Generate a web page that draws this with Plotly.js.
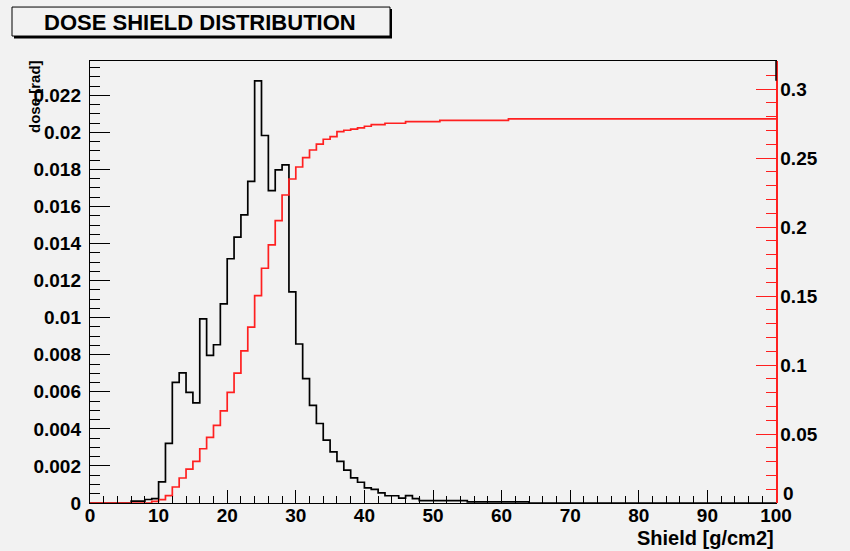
<!DOCTYPE html>
<html>
<head>
<meta charset="utf-8">
<script src="https://cdn.plot.ly/plotly-3.0.1.min.js"></script>
<style>
html,body{margin:0;padding:0;background:#f2f2f2;}
#chart{width:850px;height:551px;}
</style>
</head>
<body>
<div id="chart"></div>
<script>
// Histogram binning (Shield axis, g/cm2)
const shieldMin = 0;
const shieldMax = 100;
const nBins = 100;

// Dose per bin (left axis, rad) - bins 0..99
const doseValues = [
  0, 0, 0, 0, 0, 0, 0.0001, 0.0001, 0.00019, 0.00024,
  0.00114, 0.00322, 0.00651, 0.00702, 0.00597, 0.0054, 0.00993, 0.00797, 0.00854, 0.01075,
  0.01318, 0.01435, 0.01555, 0.01735, 0.02278, 0.01983, 0.01686, 0.01798, 0.01825, 0.01139,
  0.00858, 0.00671, 0.00527, 0.00429, 0.00339, 0.00276, 0.00225, 0.00177, 0.00136, 0.00112,
  0.00082, 0.00073, 0.00055, 0.00039, 0.00039, 0.00026, 0.0004, 0.00024, 0.00013, 0.00013,
  0.00013, 0.00013, 0.00013, 0.00013, 0.00013, 0.00006, 0.00006, 0.00006, 0.00006, 0.00006,
  0.00006, 0.00006, 0.00006, 0.00006, 0, 0, 0, 0, 0, 0,
  0, 0, 0, 0, 0, 0, 0, 0, 0, 0,
  0, 0, 0, 0, 0, 0, 0, 0, 0, 0,
  0, 0, 0, 0, 0, 0, 0, 0, 0, 0
];

// Cumulative dose per bin (right axis) - bins 0..99
const cumulativeValues = [
  0, 0, 0, 0, 0, 0, 0, 0, 0, 0.0012,
  0.0024, 0.0053, 0.0116, 0.0181, 0.0246, 0.0301, 0.0393, 0.0475, 0.0562, 0.0668,
  0.0801, 0.0941, 0.1103, 0.1274, 0.1503, 0.1701, 0.1870, 0.2046, 0.2232, 0.2348,
  0.2435, 0.2503, 0.2558, 0.2600, 0.2636, 0.2655, 0.2691, 0.2701, 0.2710, 0.2718,
  0.2730, 0.2742, 0.2742, 0.2752, 0.2752, 0.2752, 0.2763, 0.2763, 0.2763, 0.2763,
  0.2763, 0.2773, 0.2773, 0.2773, 0.2773, 0.2773, 0.2773, 0.2773, 0.2773, 0.2773,
  0.2773, 0.2783, 0.2783, 0.2783, 0.2783, 0.2783, 0.2783, 0.2783, 0.2783, 0.2783,
  0.2783, 0.2783, 0.2783, 0.2783, 0.2783, 0.2783, 0.2783, 0.2783, 0.2783, 0.2783,
  0.2783, 0.2783, 0.2783, 0.2783, 0.2783, 0.2783, 0.2783, 0.2783, 0.2783, 0.2783,
  0.2783, 0.2783, 0.2783, 0.2783, 0.2783, 0.2783, 0.2783, 0.2783, 0.2783, 0.2783
];

// Right axis tick values / labels (the "0" label is drawn raised, as in the original)
const rightTickVals = [0, 0.05, 0.1, 0.15, 0.2, 0.25, 0.3];
const rightTickText = ['', '0.05', '0.1', '0.15', '0.2', '0.25', '0.3'];
const rightZeroLabel = '0';

const chartTitle = 'DOSE SHIELD DISTRIBUTION';
const xTitle = 'Shield [g/cm2]';
const yTitle = 'dose [rad]';

// bin edges and step outline
const binWidth = (shieldMax - shieldMin) / nBins;
function stepXY(vals){
  const xs = [], ys = [];
  for (let i = 0; i < vals.length; i++){ xs.push(shieldMin + i*binWidth); ys.push(vals[i]); }
  xs.push(shieldMax); ys.push(vals[vals.length-1]);
  return {x: xs, y: ys};
}
const doseStep = stepXY(doseValues);
const cumStep = stepXY(cumulativeValues);

const BG = '#f2f2f2';
const RED = '#ff2020';
const fontFam = '"Liberation Sans", Arial, sans-serif';
const tickFont = {family: fontFam, size: 19, color: '#000', weight: 'bold'};

const traces = [
  {x: doseStep.x, y: doseStep.y, type: 'scatter', mode: 'lines',
   line: {shape: 'hv', color: '#000', width: 1.7}, yaxis: 'y', hoverinfo: 'skip'},
  {x: cumStep.x, y: cumStep.y, type: 'scatter', mode: 'lines',
   line: {shape: 'hv', color: RED, width: 1.7}, yaxis: 'y2', hoverinfo: 'skip'}
];

const PL = 90, PR = 776, PT = 61, PB = 503.3;
const px2x = p => (p - PL) / (PR - PL);
const px2y = p => (PB - p) / (PB - PT);

const layout = {
  width: 850, height: 551,
  margin: {l: PL, r: 850 - PR, t: PT, b: 551 - PB, pad: 0},
  paper_bgcolor: BG, plot_bgcolor: BG,
  showlegend: false,
  font: {family: fontFam, color: '#000'},
  xaxis: {
    range: [shieldMin, shieldMax], dtick: 10, tick0: 0,
    ticks: 'inside', ticklen: 13, tickwidth: 1, tickcolor: '#000',
    minor: {dtick: 2, ticks: 'inside', ticklen: 7, tickcolor: '#000', tickwidth: 1},
    showline: true, linecolor: '#000', linewidth: 1.2, mirror: true,
    showgrid: false, zeroline: false, tickfont: tickFont, ticklabelstandoff: -5
  },
  yaxis: {
    range: [0, 0.02385], dtick: 0.002, tick0: 0,
    ticks: 'inside', ticklen: 20, tickwidth: 1, tickcolor: '#000',
    minor: {dtick: 0.0005, ticks: 'inside', ticklen: 10, tickcolor: '#000', tickwidth: 1},
    showline: true, linecolor: '#000', linewidth: 1.2, mirror: true,
    showgrid: false, zeroline: false, tickfont: tickFont, ticklabelstandoff: 4
  },
  yaxis2: {
    overlaying: 'y', side: 'right', anchor: 'x',
    range: [0, 0.3203], tickmode: 'array', tickvals: rightTickVals, ticktext: rightTickText,
    ticks: 'inside', ticklen: 20, tickwidth: 1, tickcolor: RED,
    minor: {dtick: 0.01, tick0: 0, ticks: 'inside', ticklen: 10, tickcolor: RED, tickwidth: 1},
    showline: true, linecolor: RED, linewidth: 1.5,
    showgrid: false, zeroline: false, tickfont: tickFont, ticklabelstandoff: -1
  },
  shapes: [
    // black frame segment on right above red axis
    {type: 'line', xref: 'paper', yref: 'paper', x0: 1, x1: 1, y0: px2y(80.7), y1: 1,
     line: {color: '#000', width: 1.5}, layer: 'above'},
    // title box shadow
    {type: 'rect', xref: 'paper', yref: 'paper', x0: px2x(14), x1: px2x(392), y0: px2y(38.5), y1: px2y(9),
     fillcolor: '#000', line: {width: 0}, layer: 'above'},
    // title box
    {type: 'rect', xref: 'paper', yref: 'paper', x0: px2x(12), x1: px2x(390), y0: px2y(36), y1: px2y(7),
     fillcolor: BG, line: {color: '#000', width: 1}, layer: 'above'}
  ],
  annotations: [
    {text: chartTitle, xref: 'paper', yref: 'paper', x: px2x(200), y: px2y(22),
     xanchor: 'center', yanchor: 'middle', showarrow: false,
     font: {family: fontFam, size: 22, color: '#000', weight: 'bold'}},
    {text: xTitle, xref: 'paper', yref: 'paper', x: 1, y: px2y(538),
     xanchor: 'right', yanchor: 'middle', showarrow: false,
     font: {family: fontFam, size: 20, color: '#000', weight: 'bold'}},
    {text: yTitle, xref: 'paper', yref: 'paper', x: px2x(35), y: px2y(97),
     xanchor: 'center', yanchor: 'middle', showarrow: false, textangle: -90,
     font: {family: fontFam, size: 15, color: '#000', weight: 'bold'}},
    {text: rightZeroLabel, xref: 'paper', yref: 'paper', x: px2x(781), y: px2y(494),
     xanchor: 'left', yanchor: 'middle', showarrow: false,
     font: tickFont}
  ]
};

Plotly.newPlot('chart', traces, layout, {displayModeBar: false, staticPlot: true});
</script>
</body>
</html>
